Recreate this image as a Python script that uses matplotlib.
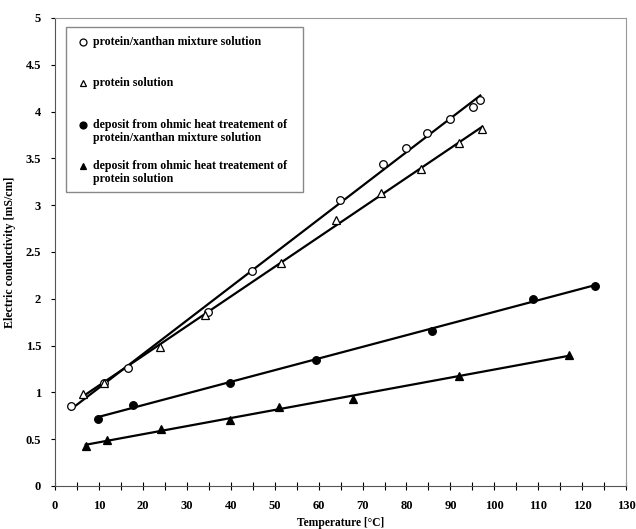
import numpy as np
from matplotlib import pyplot as plt
from matplotlib.patches import Rectangle

# protein/xanthan mixture solution (open circles)
mix_t = [3.6, 11.2, 16.7, 34.8, 44.8, 64.8, 74.6, 79.8, 84.7, 89.8, 95.2, 96.8]
mix_k = [0.85, 1.10, 1.26, 1.86, 2.30, 3.06, 3.44, 3.61, 3.77, 3.92, 4.05, 4.12]

# protein solution (open triangles)
prot_t = [6.4, 11.2, 23.9, 34.1, 51.4, 63.9, 74.2, 83.3, 91.9, 97.2]
prot_k = [0.98, 1.10, 1.48, 1.83, 2.38, 2.84, 3.13, 3.39, 3.66, 3.81]

# deposit, protein/xanthan (filled circles)
dmix_t = [9.8, 17.8, 39.8, 59.5, 85.8, 108.9, 123.0]
dmix_k = [0.72, 0.87, 1.10, 1.35, 1.66, 2.00, 2.14]

# deposit, protein (filled triangles)
dprot_t = [7.0, 11.9, 24.1, 39.9, 51.0, 67.8, 91.9, 117.0]
dprot_k = [0.43, 0.49, 0.61, 0.71, 0.84, 0.93, 1.18, 1.40]

labels = ['protein/xanthan mixture solution',
          'protein solution',
          'deposit from ohmic heat treatement of\nprotein/xanthan mixture solution',
          'deposit from ohmic heat treatement of\nprotein solution']

plt.rcParams['font.family'] = ['Liberation Serif', 'DejaVu Serif']
plt.rcParams['font.weight'] = 'bold'

fig = plt.figure(figsize=(6.36, 5.29), dpi=100)
ax = fig.add_axes([0.0865, 0.0813, 0.898, 0.8847])

series = [(mix_t, mix_k, 'o', 'white'),
          (prot_t, prot_k, '^', 'white'),
          (dmix_t, dmix_k, 'o', 'black'),
          (dprot_t, dprot_k, '^', 'black')]

for t, k, m, fc in series:
    t = np.array(t)
    a, b = np.polyfit(t, k, 1)
    xs = np.array([t.min(), t.max()])
    ax.plot(xs, a * xs + b, color='black', lw=1.6, zorder=2)
    ax.plot(t, k, m, ms=5.5, mfc=fc, mec='black', mew=0.9, ls='none', zorder=3)

ax.set_xlim(0, 130)
ax.set_ylim(0, 5)
ax.set_xticks(np.arange(0, 131, 10))
ax.set_xticks(np.arange(0, 131, 5), minor=True)
ax.set_yticks(np.arange(0, 5.01, 0.5))
ax.set_yticklabels(['0', '0.5', '1', '1.5', '2', '2.5', '3', '3.5', '4', '4.5', '5'])
ax.tick_params(axis='x', which='both', direction='inout', length=6, width=0.8,
               labelsize=9, pad=7)
ax.tick_params(axis='y', direction='out', length=3, width=0.8, labelsize=9, pad=7)

for s in ['top', 'right']:
    ax.spines[s].set_color('#999999')
for s in ['left', 'bottom']:
    ax.spines[s].set_color('#555555')

ax.set_xlabel('Temperature [°C]', fontsize=8.3, fontweight='bold')
ax.xaxis.set_label_coords(0.5, -0.067)
ax.set_ylabel('Electric conductivity [mS/cm]', fontsize=8.6, fontweight='bold')
ax.yaxis.set_label_coords(-0.068, 0.5)

# legend box, markers aligned with the first line of each entry
ax.add_patch(Rectangle((0.0192, 0.6282), 0.4144, 0.3526, transform=ax.transAxes,
                       fill=True, facecolor='white', edgecolor='#888888', lw=1.0,
                       zorder=4))
entry_y = [0.9487, 0.8611, 0.7714, 0.6838]
for (t, k, m, fc), lab, y in zip(series, labels, entry_y):
    ax.plot([0.049], [y], m, ms=5, mfc=fc, mec='black', mew=0.9,
            transform=ax.transAxes, zorder=5, clip_on=False)
    ax.text(0.0664, y + 0.0135, lab, transform=ax.transAxes, fontsize=8.6,
            fontweight='bold', va='top', ha='left', linespacing=1.12, zorder=5)

fig.savefig('out.png', dpi=100)
